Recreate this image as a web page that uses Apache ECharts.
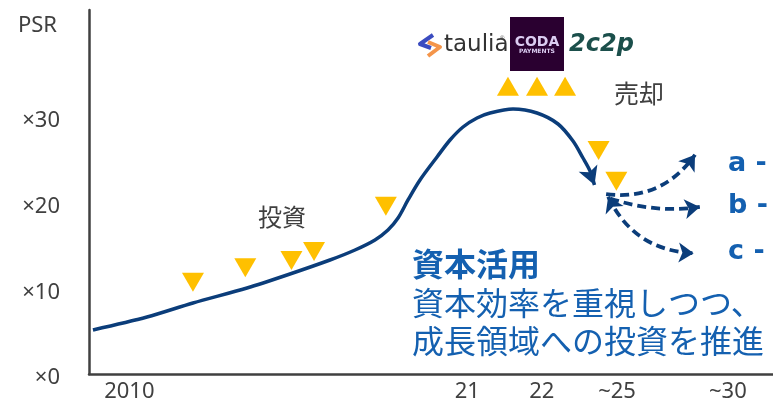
<!DOCTYPE html>
<html>
<head>
<meta charset="utf-8">
<script src="https://cdn.jsdelivr.net/npm/echarts@6/dist/echarts.min.js"></script>
<style>
html,body{margin:0;padding:0;background:#fff;}
#chart{width:773px;height:400px;}
</style>
</head>
<body>
<div id="chart"></div>
<script>
// ---- data ----
const xTickPos = [5.9, 55.3, 66.2, 77.2, 93.4];
const xTickLabels = ['2010', '21', '22', '~25', '~30'];
const yTicks = [0, 10, 20, 30];
const yName = 'PSR';
// PSR trajectory (timeline position, PSR multiple)
const psrCurve = [
  [0.58, 5.14], [8.48, 6.65], [15.2, 8.29], [23.1, 10.04], [28.95, 11.56], [35.23, 13.31],
  [38.89, 14.48], [41.81, 15.65], [43.71, 16.81], [45.18, 18.21], [46.64, 20.32],
  [48.39, 22.65], [50.88, 25.34], [52.78, 27.32], [54.68, 28.84], [56.73, 29.89],
  [58.63, 30.47], [61.99, 30.94], [65.50, 30.47], [68.57, 29.19], [70.76, 27.2],
  [72.22, 25.22], [73.25, 23.7], [73.9, 22.07]
];
// investments (down triangles)
const investPoints = [
  [15.2, 10.7], [22.85, 12.4], [29.6, 13.25], [32.9, 14.3], [43.4, 19.6],
  [74.5, 26.1], [77.1, 22.5]
];
// exits (up triangles)
const exitPoints = [[61.25, 33.6], [65.5, 33.6], [69.6, 33.6]];
// future scenarios a, b, c (start, end)
const scenarioA = [[75.6, 21.0], [88.6, 25.6]];
const scenarioB = [[76.2, 20.5], [89.3, 19.5]];
const scenarioC = [[75.9, 20.7], [88.4, 14.1]];
const scenarioLabels = ['a -', 'b -', 'c -'];

const navy = '#0b3d7a';
const gold = '#FFC000';
const blueText = '#1460b0';
const axisGrey = '#404040';
const jp = '"Noto Sans CJK JP", sans-serif';
const latin = '"Noto Sans", sans-serif';

const chart = echarts.init(document.getElementById('chart'), null, {renderer: 'canvas'});

const curveData = psrCurve.map((p, i) => {
  if (i === psrCurve.length - 1) {
    return {value: p, symbol: 'arrow', symbolSize: [15, 18], symbolRotate: 201,
            itemStyle: {color: navy}};
  }
  return {value: p, symbol: 'none'};
});

const dashStyle = {color: navy, width: 3.8, type: [9, 5], opacity: 1};

chart.setOption({
  animation: false,
  grid: {left: 89, right: 0, top: 10, bottom: 26, outerBoundsMode: 'none', containLabel: false},
  xAxis: {
    type: 'value', min: 0, max: 100,
    splitLine: {show: false},
    axisTick: {show: false},
    axisLine: {show: true, lineStyle: {color: axisGrey, width: 2.5}},
    axisLabel: {
      customValues: xTickPos,
      formatter: v => { const i = xTickPos.indexOf(v); return i >= 0 ? xTickLabels[i] : ''; },
      color: axisGrey, fontSize: 22, fontFamily: latin, margin: 7
    }
  },
  yAxis: {
    type: 'value', min: 0, max: 42.5,
    name: yName, nameLocation: 'end', nameGap: -16,
    nameTextStyle: {color: axisGrey, fontSize: 22, fontFamily: latin,
                    align: 'right', verticalAlign: 'middle', padding: [0, 32, 0, 0]},
    splitLine: {show: false},
    axisTick: {show: false},
    axisLine: {show: true, lineStyle: {color: axisGrey, width: 2.5}},
    axisLabel: {
      customValues: yTicks,
      formatter: v => '×' + v,
      color: axisGrey, fontSize: 22, fontFamily: latin, margin: 29,
      verticalAlign: 'top', lineHeight: 8
    }
  },
  series: [
    {
      type: 'line', data: curveData, smooth: 0.3, showSymbol: true, symbol: 'none',
      lineStyle: {color: navy, width: 3.5}, z: 3
    },
    {
      type: 'scatter', data: investPoints, symbol: 'triangle', symbolRotate: 180,
      symbolSize: [22, 19], itemStyle: {color: gold, opacity: 1}, z: 4
    },
    {
      type: 'scatter', data: exitPoints, symbol: 'triangle',
      symbolSize: [22, 19], itemStyle: {color: gold, opacity: 1}, z: 4
    },
    {
      type: 'lines', coordinateSystem: 'cartesian2d', z: 3,
      symbol: ['none', 'arrow'], symbolSize: 15,
      data: [
        {coords: scenarioA, lineStyle: Object.assign({}, dashStyle, {curveness: -0.3})},
        {coords: scenarioB, lineStyle: Object.assign({}, dashStyle, {curveness: -0.12})}
      ],
      lineStyle: dashStyle
    },
    {
      type: 'lines', coordinateSystem: 'cartesian2d', z: 3,
      symbol: ['arrow', 'arrow'], symbolSize: 15,
      data: [
        {coords: scenarioC, lineStyle: Object.assign({}, dashStyle, {curveness: -0.3})}
      ],
      lineStyle: dashStyle
    }
  ],
  graphic: [
    // labels
    {type: 'text', left: 258, top: 205, style: {text: '投資', fill: axisGrey, font: '24px ' + jp}},
    {type: 'text', left: 614, top: 81, style: {text: '売却', fill: axisGrey, font: '25px ' + jp}},
    {type: 'text', x: 412, y: 264, style: {text: '資本活用', fill: blueText, font: 'bold 32px ' + jp, textVerticalAlign: 'middle'}},
    {type: 'text', x: 412, y: 303, style: {text: '資本効率を重視しつつ、', fill: blueText, font: '32px ' + jp, textVerticalAlign: 'middle'}},
    {type: 'text', x: 412, y: 341, style: {text: '成長領域への投資を推進', fill: blueText, font: '32px ' + jp, textVerticalAlign: 'middle'}},
    {type: 'text', x: 728, y: 164, style: {text: scenarioLabels[0], fill: blueText, font: 'bold 27px "DejaVu Sans"', textVerticalAlign: 'middle'}},
    {type: 'text', x: 728, y: 206, style: {text: scenarioLabels[1], fill: blueText, font: 'bold 27px "DejaVu Sans"', textVerticalAlign: 'middle'}},
    {type: 'text', x: 728, y: 252, style: {text: scenarioLabels[2], fill: blueText, font: 'bold 27px "DejaVu Sans"', textVerticalAlign: 'middle'}},
    // taulia logo
    {type: 'polyline', shape: {points: [[433, 35], [420, 44], [431, 48]]}, style: {stroke: '#3b4cc0', lineWidth: 4, fill: null, lineJoin: 'round'}},
    {type: 'polyline', shape: {points: [[428, 42], [440, 47], [428, 56]]}, style: {stroke: '#f4954a', lineWidth: 4, fill: null, lineJoin: 'round'}},
    {type: 'text', x: 444, y: 45, style: {text: 'taulia', fill: '#333', font: '23px "DejaVu Sans"', textVerticalAlign: 'middle'}},
    {type: 'text', x: 500, y: 38, style: {text: '®', fill: '#555', font: '6px sans-serif', textVerticalAlign: 'middle'}},
    // CODA payments logo
    {type: 'rect', shape: {x: 510, y: 17, width: 54, height: 54}, style: {fill: '#2a0030'}},
    {type: 'text', x: 537, y: 42, style: {text: 'CODA', fill: '#dccdf2', font: 'bold 14px "DejaVu Sans"', textAlign: 'center', textVerticalAlign: 'middle'}},
    {type: 'text', x: 537, y: 51.5, style: {text: 'PAYMENTS', fill: '#dccdf2', font: 'bold 6px "DejaVu Sans"', textAlign: 'center', textVerticalAlign: 'middle'}},
    // 2c2p logo
    {type: 'text', x: 569, y: 45, style: {text: '2c2p', fill: '#1b4f4b', font: 'italic bold 24px "DejaVu Sans"', textVerticalAlign: 'middle'}}
  ]
});
</script>
</body>
</html>
